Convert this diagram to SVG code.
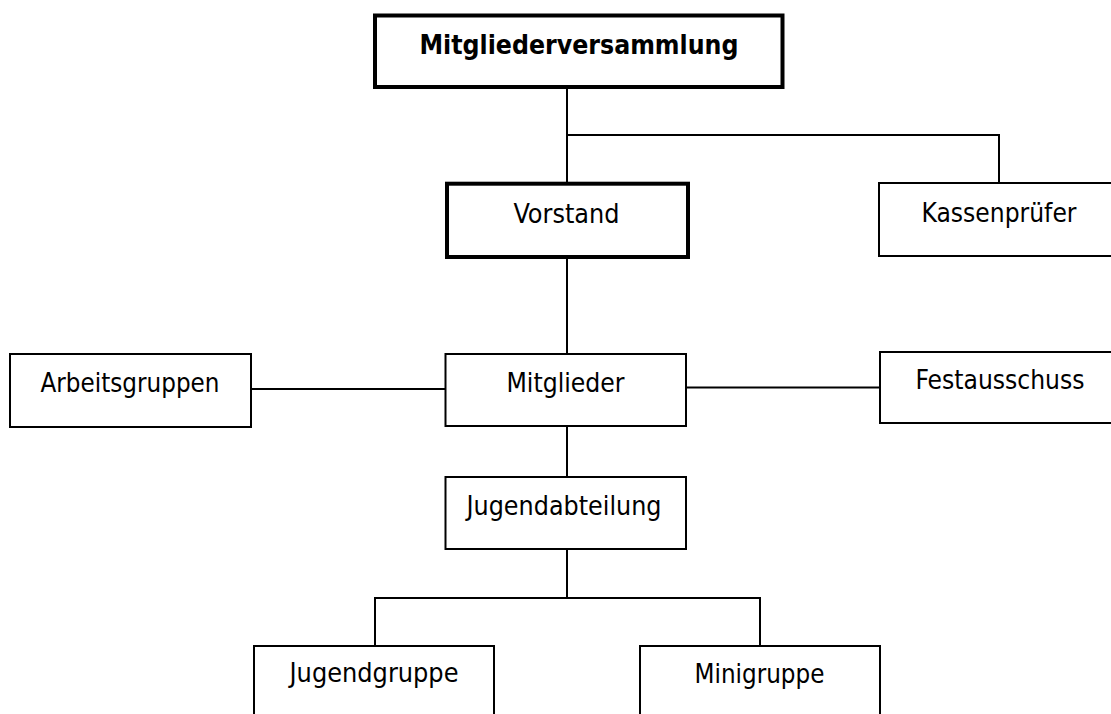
<svg xmlns="http://www.w3.org/2000/svg" width="1111" height="714" viewBox="0 0 1111 714">
<style>
.box{fill:#fff;stroke:#000;stroke-width:2}
.thick{fill:#fff;stroke:#000;stroke-width:4}
.lbl{font-family:"DejaVu Sans Condensed","DejaVu Sans",sans-serif;font-size:27px;fill:#000}
.b{font-weight:bold;font-size:26px}
#connectors line,#connectors polyline{stroke:#000;stroke-width:2;fill:none}
</style>
<rect width="1111" height="714" fill="#fff"/>
<g id="connectors">
<line x1="567" y1="87" x2="567" y2="184"/>
<polyline points="567,135 999,135 999,183"/>
<line x1="567" y1="257" x2="567" y2="354"/>
<line x1="251" y1="389" x2="445" y2="389"/>
<line x1="686" y1="387.5" x2="880" y2="387.5"/>
<line x1="567" y1="426" x2="567" y2="477"/>
<line x1="567" y1="549" x2="567" y2="598"/>
<polyline points="375,646 375,598 760,598 760,646"/>
</g>
<g id="mitgliederversammlung">
<rect class="thick" x="375" y="15.5" width="407.5" height="71.5"/>
<text class="lbl b" x="419.5" y="53.5" textLength="319" lengthAdjust="spacingAndGlyphs">Mitgliederversammlung</text>
</g>
<g id="vorstand">
<rect class="thick" x="447" y="183.7" width="241" height="73.3"/>
<text class="lbl" x="513.5" y="223" textLength="106" lengthAdjust="spacingAndGlyphs">Vorstand</text>
</g>
<g id="kassenpruefer">
<rect class="box" x="879" y="183" width="260" height="73"/>
<text class="lbl" x="921.5" y="222" textLength="155" lengthAdjust="spacingAndGlyphs">Kassenprüfer</text>
</g>
<g id="arbeitsgruppen">
<rect class="box" x="10" y="354" width="241" height="73"/>
<text class="lbl" x="40.5" y="392" textLength="179" lengthAdjust="spacingAndGlyphs">Arbeitsgruppen</text>
</g>
<g id="mitglieder">
<rect class="box" x="445.5" y="354" width="240.5" height="72"/>
<text class="lbl" x="506.5" y="392" textLength="118" lengthAdjust="spacingAndGlyphs">Mitglieder</text>
</g>
<g id="festausschuss">
<rect class="box" x="880" y="352" width="260" height="71"/>
<text class="lbl" x="915.5" y="389" textLength="169" lengthAdjust="spacingAndGlyphs">Festausschuss</text>
</g>
<g id="jugendabteilung">
<rect class="box" x="445.5" y="477" width="240.5" height="72"/>
<text class="lbl" x="466.5" y="515" textLength="195" lengthAdjust="spacingAndGlyphs">Jugendabteilung</text>
</g>
<g id="jugendgruppe">
<rect class="box" x="254" y="646" width="240" height="100"/>
<text class="lbl" x="289.5" y="682" textLength="169" lengthAdjust="spacingAndGlyphs">Jugendgruppe</text>
</g>
<g id="minigruppe">
<rect class="box" x="640" y="646" width="240" height="100"/>
<text class="lbl" x="694.5" y="683" textLength="130" lengthAdjust="spacingAndGlyphs">Minigruppe</text>
</g>
</svg>
